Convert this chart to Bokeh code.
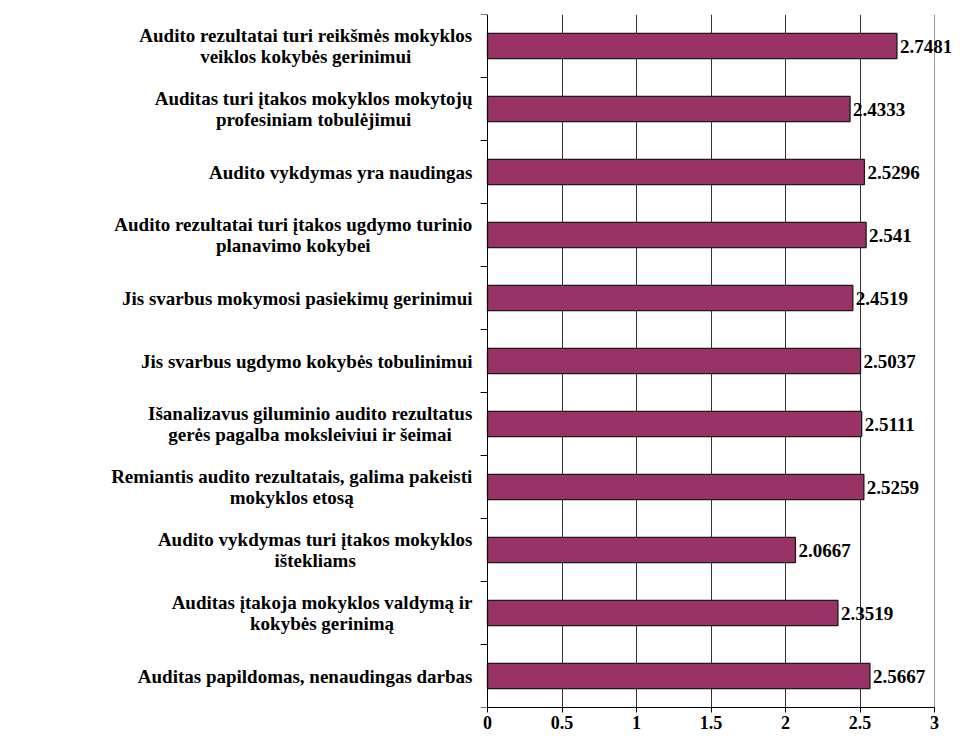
from bokeh.plotting import figure
from bokeh.models import ColumnDataSource, FixedTicker, NumeralTickFormatter, Range1d, Grid
from bokeh.core.properties import value
from bokeh.embed import file_html
from bokeh.resources import INLINE

categories = [
    "Audito rezultatai turi reikšmės mokyklos\nveiklos kokybės gerinimui",
    "Auditas turi įtakos mokyklos mokytojų\nprofesiniam tobulėjimui",
    "Audito vykdymas yra naudingas",
    "Audito rezultatai turi įtakos ugdymo turinio\nplanavimo kokybei",
    "Jis svarbus mokymosi pasiekimų gerinimui",
    "Jis svarbus ugdymo kokybės tobulinimui",
    "Išanalizavus giluminio audito rezultatus\ngerės pagalba moksleiviui ir šeimai",
    "Remiantis audito rezultatais, galima pakeisti\nmokyklos etosą",
    "Audito vykdymas turi įtakos mokyklos\ništekliams",
    "Auditas įtakoja mokyklos valdymą ir\nkokybės gerinimą",
    "Auditas papildomas, nenaudingas darbas",
]
values = [2.7481, 2.4333, 2.5296, 2.541, 2.4519, 2.5037, 2.5111, 2.5259, 2.0667, 2.3519, 2.5667]
value_labels = ["2.7481", "2.4333", "2.5296", "2.541", "2.4519", "2.5037", "2.5111", "2.5259", "2.0667", "2.3519", "2.5667"]
x_ticks = [0, 0.5, 1, 1.5, 2, 2.5, 3]

# ---- layout / style constants ----
FONT = "Liberation Serif"
BAR = "#993366"
W, H = 951, 731
FRAME_L = 12          # left border (px) of the frame
X0 = 487              # pixel where x = 0
SCALE = 149           # px per x unit
LABEL_RIGHT = 472     # right edge of the category label block (px)
CAT_SIZE = 19

# Times/Liberation Serif Bold advance widths (1/1000 em) for centring label blocks
_tw = {" ": 250, ",": 250, ".": 250, "A": 722, "I": 389, "J": 500, "R": 722,
       "a": 500, "b": 556, "c": 444, "d": 556, "e": 444, "f": 333, "g": 500, "h": 556,
       "i": 278, "j": 333, "k": 556, "l": 278, "m": 833, "n": 556, "o": 500, "p": 556,
       "q": 556, "r": 444, "s": 389, "t": 333, "u": 556, "v": 500, "w": 722, "x": 500,
       "y": 500, "z": 444}
_base = {"ė": "e", "į": "i", "ų": "u", "š": "s", "ą": "a", "ž": "z", "ū": "u", "č": "c", "ę": "e"}

def text_w(s, size):
    return sum(_tw.get(_base.get(c, c), 500) for c in s) * size / 1000.0

n = len(categories)
ypos = [n - 1 - i for i in range(n)]
label_x = []
for c in categories:
    maxw = max(text_w(line, CAT_SIZE) for line in c.split("\n"))
    px = LABEL_RIGHT - maxw / 2.0
    label_x.append((px - X0) / SCALE)

p = figure(width=W, height=H, output_backend="svg", toolbar_location=None,
           x_range=Range1d((FRAME_L - X0) / SCALE, (W - X0) / SCALE),
           y_range=Range1d(-0.5, n - 0.5),
           min_border_left=FRAME_L, min_border_right=0, min_border_top=14, min_border_bottom=0)
p.background_fill_color = "white"
p.outline_line_color = None

src = ColumnDataSource(dict(y=ypos, v=values, vl=value_labels, cat=categories, lx=label_x))

# grid lines inside the plot area
p.ygrid.ticker = FixedTicker(ticks=[n - 0.5])
p.ygrid.bounds = (0, 3)
p.ygrid.grid_line_color = "#999999"
p.xgrid.ticker = FixedTicker(ticks=[0.5, 1, 1.5, 2, 2.5])
p.xgrid.grid_line_color = "#333333"
p.xgrid.grid_line_width = 1
p.add_layout(Grid(dimension=0, ticker=FixedTicker(ticks=[3]), grid_line_color="#999999"))

p.hbar(y="y", left=0, right="v", height=0.4, source=src,
       fill_color=BAR, line_color="#1a1a1a", line_width=1.3)

# x axis
xa = p.xaxis[0]
xa.ticker = FixedTicker(ticks=x_ticks)
xa.bounds = (0, 3)
xa.formatter = NumeralTickFormatter(format="0.[0]")
xa.major_tick_out = 5
xa.major_tick_in = 0
xa.minor_tick_out = 0
xa.minor_tick_in = 0
xa.axis_line_color = "black"
xa.major_tick_line_color = "black"
xa.major_label_text_font = FONT
xa.major_label_text_font_style = "bold"
xa.major_label_text_font_size = "18px"
xa.major_label_text_color = "black"
xa.major_label_standoff = 3

# y axis placed at x = 0, ticks at category boundaries
ya = p.yaxis[0]
ya.fixed_location = 0
ya.ticker = FixedTicker(ticks=[k - 0.5 for k in range(n + 1)])
ya.major_label_text_color = None
ya.major_label_text_font_size = "1px"
ya.major_label_standoff = 0
ya.major_tick_out = 7
ya.major_tick_in = 0
ya.minor_tick_out = 0
ya.minor_tick_in = 0
ya.axis_line_color = "black"
ya.major_tick_line_color = "black"

p.text(x="v", y="y", text="vl", source=src, x_offset=3,
       text_align="left", text_baseline="middle",
       text_font=value(FONT), text_font_style="bold", text_font_size=value("19px"),
       text_color="black")

p.text(x="lx", y="y", text="cat", source=src,
       text_align="center", text_baseline="middle",
       text_font=value(FONT), text_font_style="bold", text_font_size=value("%dpx" % CAT_SIZE),
       text_line_height=1.0, text_color="black")

open("out.html", "w").write(file_html(p, INLINE))
